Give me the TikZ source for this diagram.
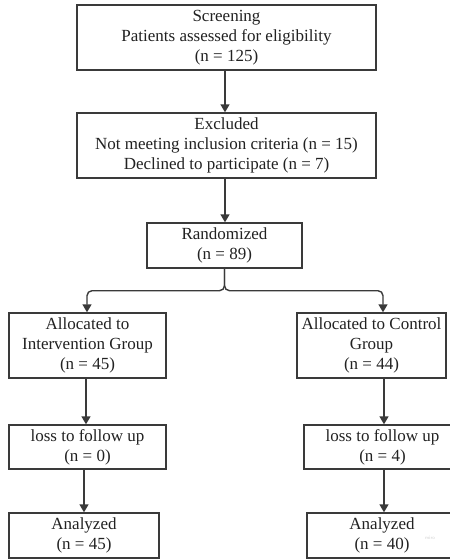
\documentclass[tikz,border=0pt]{standalone}
\usepackage{fontspec}
\setmainfont{Liberation Serif}
\usetikzlibrary{arrows.meta}
\definecolor{lineC}{HTML}{3A3A3A}
\definecolor{textC}{HTML}{222222}
\begin{document}
\begin{tikzpicture}[x=1pt,y=-1pt,
  box/.style={draw=lineC, line width=1.4pt, text=textC, align=center, inner sep=0pt,
    font=\fontsize{17}{20}\selectfont},
  arr/.style={draw=lineC, line width=1.4pt, -{Triangle[length=8pt,width=9pt]}},
]
\useasboundingbox (0,0) rectangle (450,560);
\fill[white] (0,0) rectangle (450,560);
\coordinate (colL) at (86,0);
\coordinate (colR) at (384,0);

\node[box, minimum width=299pt, minimum height=65pt] (scr) at (226.5,37.5)
  {Screening\\Patients assessed for eligibility\\(n = 125)};
\node[box, minimum width=299pt, minimum height=65pt] (exc) at (226.5,145.5)
  {Excluded\\Not meeting inclusion criteria (n = 15)\\Declined to participate (n = 7)};
\node[box, minimum width=155pt, minimum height=45pt] (rand) at (224.5,245.5)
  {Randomized\\(n = 89)};
\node[box, minimum width=157pt, minimum height=65pt] (allI) at (87.5,345.5)
  {Allocated to\\Intervention Group\\(n = 45)};
\node[box, minimum width=149pt, minimum height=65pt] (allC) at (371.5,345.5)
  {Allocated to Control\\Group\\(n = 44)};
\node[box, minimum width=157pt, minimum height=44pt] (lossI) at (87.5,447)
  {loss to follow up\\(n = 0)};
\node[box, minimum width=157pt, minimum height=44pt] (lossC) at (382.5,447)
  {loss to follow up\\(n = 4)};
\node[box, minimum width=150pt, minimum height=45pt] (anaI) at (84,535.5)
  {Analyzed\\(n = 45)};
\node[box, minimum width=150pt, minimum height=45pt] (anaC) at (382,535.5)
  {Analyzed\\(n = 40)};
\node[text=gray!35, font=\fontsize{5}{6}\sffamily] (wm) at (430,538) {miro};

\draw[arr] (scr.south -| 225,0) -- (exc.north -| 225,0);
\draw[arr] (exc.south -| 225,0) -- (rand.north -| 225,0);
\draw[arr, rounded corners=5pt] (rand.south) -- ++(0,22) -| (allI.north -| 87,0);
\draw[arr, rounded corners=5pt] (rand.south) -- ++(0,22) -| (allC.north -| 383,0);
\draw[arr] (allI.south -| colL) -- (lossI.north -| colL);
\draw[arr] (lossI.south -| 84,0) -- (anaI.north -| 84,0);
\draw[arr] (allC.south -| colR) -- (lossC.north -| colR);
\draw[arr] (lossC.south -| colR) -- (anaC.north -| colR);
\end{tikzpicture}
\end{document}
